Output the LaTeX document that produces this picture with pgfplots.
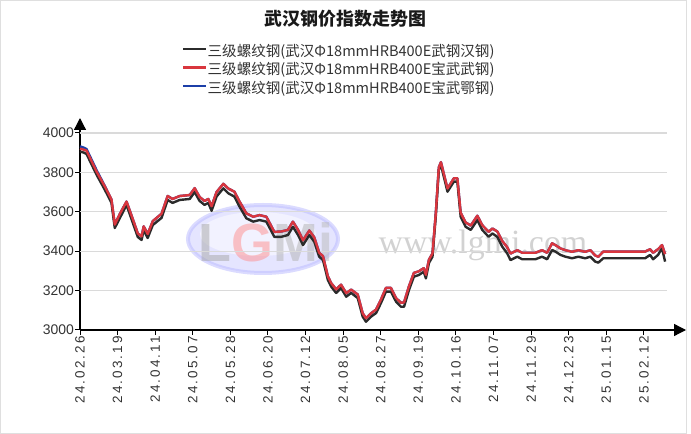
\documentclass[border=0pt]{standalone}
\usepackage{fontspec}
\setmainfont{Liberation Sans}
\newfontfamily\cjk{Noto Sans CJK SC}
\newfontfamily\xlab[LetterSpace=16]{Liberation Sans}
\newfontfamily\wmserif{Liberation Serif}
\usepackage{pgfplots}
\usepackage{pgfplotstable}
\pgfplotsset{compat=1.18}
\usetikzlibrary{arrows.meta}
\definecolor{serk}{HTML}{2B2B2B}
\definecolor{serr}{HTML}{D9363E}
\definecolor{serb}{HTML}{1C3FA8}
\definecolor{txt}{HTML}{333333}
\definecolor{gridc}{HTML}{DADADA}

\pgfplotstableread{
x k r b
0 3906 3920 3932
1.7 3900 3915 3925
2.8 3893 3910 3918
7.1 3787 3803 3810
10.6 3711 3728 3730
13.4 3645 3662 3662
14.8 3518 3535 3535
17.0 3569 3590 3590
19.8 3635 3652 3652
22.5 3543 3562 3562
24.6 3472 3490 3490
26.2 3457 3475 3475
27.1 3508 3526 3526
28.8 3467 3487 3487
31.0 3533 3553 3553
34.7 3569 3590 3590
37.3 3660 3680 3680
39.4 3645 3665 3665
42.4 3660 3680 3680
46.7 3665 3685 3685
48.8 3700 3720 3720
50.9 3655 3675 3675
53.0 3635 3655 3655
54.6 3645 3665 3665
56.0 3605 3628 3628
58.1 3677 3700 3700
61.0 3719 3742 3742
63.1 3694 3718 3718
65.7 3677 3702 3702
67.9 3626 3652 3652
70.8 3567 3592 3592
73.7 3550 3575 3575
76.4 3558 3583 3583
79.3 3550 3575 3575
82.7 3473 3498 3498
85.7 3473 3500 3500
88.5 3482 3508 3508
90.6 3524 3550 3550
92.8 3482 3508 3508
94.9 3431 3455 3455
97.6 3482 3505 3505
99.7 3448 3470 3470
101.8 3372 3392 3392
103.4 3355 3375 3375
105.5 3254 3272 3272
106.9 3220 3238 3238
109.0 3188 3206 3206
111.1 3213 3230 3230
113.3 3169 3187 3187
115.4 3188 3205 3205
118.2 3162 3180 3180
120.3 3068 3085 3085
121.7 3042 3060 3060
123.9 3068 3085 3085
126.0 3086 3104 3104
128.1 3137 3155 3155
130.2 3195 3214 3214
132.3 3195 3214 3214
134.5 3144 3162 3162
136.6 3118 3138 3138
137.9 3118 3140 3140
140.0 3203 3222 3222
142.1 3271 3290 3290
144.2 3279 3298 3298
146.3 3296 3314 3314
147.2 3262 3280 3280
148.5 3340 3357 3357
150.0 3372 3388 3388
151.4 3575 3590 3590
152.7 3812 3825 3825
153.6 3838 3852 3852
156.4 3702 3718 3718
159.1 3753 3770 3770
160.6 3753 3770 3770
162.0 3575 3595 3595
164.1 3524 3546 3546
166.3 3508 3530 3530
169.1 3558 3580 3580
171.2 3508 3532 3532
173.9 3473 3498 3498
175.5 3490 3515 3515
177.6 3473 3500 3500
179.7 3423 3452 3452
181.8 3389 3420 3420
183.2 3355 3388 3388
186.1 3372 3405 3405
188.2 3359 3392 3392
193.8 3359 3392 3392
196.6 3372 3405 3405
198.8 3359 3392 3392
200.9 3406 3440 3440
202.3 3398 3431 3431
204.5 3381 3414 3414
206.6 3372 3405 3405
209.4 3364 3397 3397
212.1 3372 3405 3405
215.0 3364 3397 3397
217.2 3372 3405 3405
219.3 3347 3378 3378
220.6 3342 3372 3372
222.7 3364 3398 3398
240.5 3364 3398 3398
242.6 3381 3410 3410
243.9 3359 3392 3392
246.0 3381 3410 3410
247.7 3415 3431 3431
249.0 3347 3385 3385
}\steel

\begin{document}
\begin{tikzpicture}
\useasboundingbox (0,0) rectangle (691bp,434bp);
\draw[gray!25, line width=1bp] (0.5bp,0.5bp) rectangle (686bp,433.5bp);
% watermark
\begin{scope}[opacity=0.5]
\fill[blue!20, draw=blue!28, line width=4bp] (263bp,195bp) ellipse [x radius=75bp, y radius=34bp];
\fill[white, opacity=0.5] (258bp,200bp) ellipse [x radius=58bp, y radius=22bp];
\node[font=\fontsize{54}{54}\selectfont\bfseries] at (266bp,192bp) {\textcolor{gray!70}{L}\textcolor{red!45}{G}\textcolor{gray!60}{M}\textcolor{gray!55}{i}};
\end{scope}
\node[font=\wmserif\fontsize{34}{34}\selectfont, text=gray!35] at (483bp,189bp) {www.lgmi.com};
% title
\node[font=\cjk\bfseries\fontsize{18}{18}\selectfont, text=black!90] at (345.5bp,415bp) {武汉钢价指数走势图};
\begin{axis}[
  at={(80bp,104bp)}, anchor=south west,
  scale only axis, width=606bp, height=212bp,
  xmin=0, xmax=257.9, ymin=3000, ymax=4076,
  axis lines=left,
  x axis line style={line width=1.3bp, black, -{Triangle[width=12bp,length=12bp]}},
  y axis line style={line width=1.3bp, black, -{Triangle[width=12bp,length=12bp]}},
  tick align=outside, major tick length=5bp,
  tick style={black, line width=1bp},
  ytick={3000,3200,3400,3600,3800,4000},
  xtick={0,16,...,240},
  xticklabels={24.02.26,24.03.19,24.04.11,24.05.07,24.05.28,24.06.20,24.07.12,24.08.05,24.08.27,24.09.19,24.10.16,24.11.07,24.11.29,24.12.23,25.01.15,25.02.12},
  xticklabel style={rotate=90, anchor=east, inner sep=1bp, font=\xlab\fontsize{13.5}{14}\selectfont, text=txt},
  yticklabel style={inner sep=1bp, font=\fontsize{14}{14}\selectfont, text=txt},
  /pgf/number format/assume math mode=true,
  /pgf/number format/1000 sep={},
  clip=false,
  legend cell align=left,
  legend style={at={(0.1683,1.351)}, anchor=north west, draw=none, fill=none,
    inner sep=0pt, row sep=0pt,
    font=\cjk\fontsize{14.6}{14.6}\selectfont, text=txt,
    nodes={inner sep=0pt, text height=12.5bp, text depth=6bp},
    /tikz/every even column/.append style={column sep=8bp}},
  legend image code/.code={\draw[#1, line width=2.5bp] (0bp,4bp) -- (23bp,4bp);},
]
\foreach \yy in {3200,3400,3600,3800,4000} {
  \edef\temp{\noexpand\draw[gridc, line width=1.2bp] (axis cs:0,\yy) -- (axis cs:250,\yy);}
  \temp
}
\addplot[serb, line width=2.4bp, line join=round, forget plot] table[x=x,y=b] {\steel};
\addplot[serk, line width=2.4bp, line join=round] table[x=x,y=k] {\steel};
\addplot[serr, line width=2.4bp, line join=round] table[x=x,y=r] {\steel};
\addlegendimage{serb, line width=2.4bp}
\legend{三级螺纹钢(武汉Φ18mmHRB400E武钢汉钢),三级螺纹钢(武汉Φ18mmHRB400E宝武武钢),三级螺纹钢(武汉Φ18mmHRB400E宝武鄂钢)}
\end{axis}
\end{tikzpicture}
\end{document}
